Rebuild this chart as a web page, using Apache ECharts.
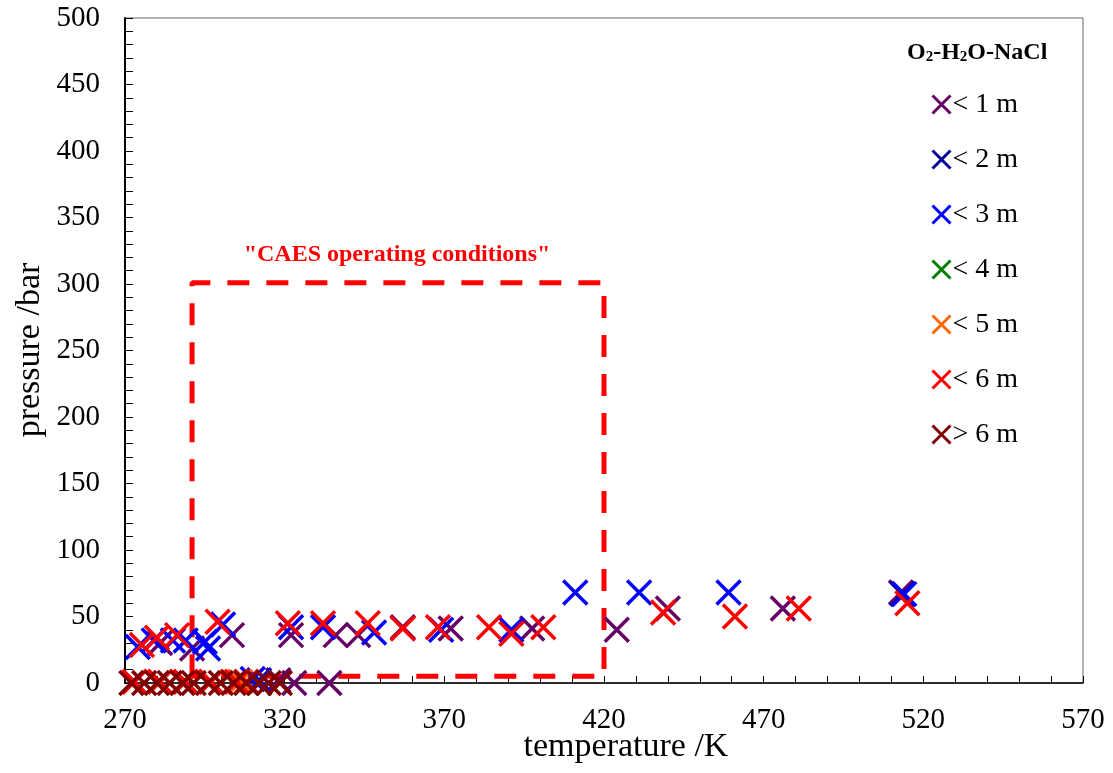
<!DOCTYPE html>
<html>
<head>
<meta charset="utf-8">
<script src="https://cdn.jsdelivr.net/npm/echarts@6/dist/echarts.min.js"></script>
<style>html,body{margin:0;padding:0;background:#fff;}#c{width:1113px;height:773px;}</style>
</head>
<body>
<div id="c"></div>
<script>
// ---- data ----
const seriesNames = ['< 1 m', '< 2 m', '< 3 m', '< 4 m', '< 5 m', '< 6 m', '> 6 m'];
const seriesColors = ['#660066', '#000099', '#0000ff', '#008000', '#ff6600', '#ff0000', '#800000'];
const lt1m = [[281,30],[291,26],[303.5,36],[322,36],[336,36],[343,36],[357,42],[372,41],[397.5,41],[424,40],[440,56],[476,56],[513,68],[318,2],[323,0],[334,0]];
const lt2m = [[513.5,67]];
const lt3m = [[274,27],[279,32],[285,32],[289,32],[295,31],[296,26],[300.7,44],[322,42],[332,42],[348,38],[369,40],[391,40],[411,68],[431,68],[459,68],[514,67],[310,3],[312,2]];
const lt4m = [[312,0]];
const lt5m = [[306,1]];
const lt6m = [[275.3,28.6],[280,34],[286.3,36],[299,46],[321,45],[332,45],[346,45],[357,41],[368,42],[384,42],[391,37],[401,42],[438.5,53],[461,50],[481,56],[515,60],[273,1],[281,1],[289,1],[297,1],[305,1],[308,1]];
const gt6m = [[272,0],[276,0],[280,0],[284,0],[288,0],[291.5,0],[296,0],[300,0],[304,0],[308,0],[312,0],[315,0],[318.5,0]];
const allSeries = [lt1m, lt2m, lt3m, lt4m, lt5m, lt6m, gt6m];
const caesBox = [[291,5],[291,301],[420,301],[420,5],[291,5]];
const caesLabel = '"CAES operating conditions"';
const xTicks = {min: 270, max: 570, interval: 50};
const yTicks = {min: 0, max: 500, interval: 50};

const FONT = '"Liberation Serif", "Times New Roman", serif';
const X = 'path://M0,0L24,24M24,0L0,24';

const chart = echarts.init(document.getElementById('c'), null, {renderer: 'canvas'});

const scatterSeries = allSeries.map((d, i) => ({
  type: 'scatter',
  name: seriesNames[i],
  data: d,
  symbol: X,
  symbolSize: 24,
  itemStyle: {color: 'rgba(0,0,0,0)', borderColor: seriesColors[i], borderWidth: 3.5, opacity: 1},
  z: 3 + i
}));

const option = {
  backgroundColor: '#fff',
  animation: false,
  textStyle: {fontFamily: FONT},
  grid: {left: 125, right: 30, top: 18, bottom: 90, show: true, borderColor: '#666', borderWidth: 1},
  title: {
    text: '{a|O}{s|2}{a|-H}{s|2}{a|O-NaCl}',
    left: 902, top: 32,
    textStyle: {
      rich: {
        a: {fontFamily: FONT, fontWeight: 'bold', fontSize: 24, color: '#000', lineHeight: 28, verticalAlign: 'bottom'},
        s: {fontFamily: FONT, fontWeight: 'bold', fontSize: 15, color: '#000', lineHeight: 15, verticalAlign: 'bottom'}
      }
    }
  },
  legend: {
    orient: 'vertical',
    left: 926, top: 85,
    itemWidth: 18, itemHeight: 18,
    itemGap: 26,
    icon: 'path://M0,0L24,24M24,0L0,24',
    itemStyle: {borderWidth: 3},
    textStyle: {fontFamily: FONT, fontSize: 28, color: '#000', lineHeight: 29, padding: [0,0,0,-3]},
    data: seriesNames
  },
  xAxis: {
    type: 'value', min: xTicks.min, max: xTicks.max, interval: xTicks.interval,
    axisLine: {show: true, onZero: false, lineStyle: {color: '#000', width: 1.5}},
    axisTick: {show: true, inside: true, length: 7, lineStyle: {color: '#000', width: 1}},
    minorTick: {show: true, splitNumber: 5, length: 7, lineStyle: {color: '#000', width: 1}},
    splitLine: {show: false},
    axisLabel: {fontFamily: FONT, fontSize: 29, color: '#000', margin: 23}
  },
  yAxis: {
    type: 'value', min: yTicks.min, max: yTicks.max, interval: yTicks.interval,
    axisLine: {show: true, lineStyle: {color: '#000', width: 2}},
    axisTick: {show: true, inside: true, length: 8, lineStyle: {color: '#000', width: 1}},
    minorTick: {show: true, splitNumber: 5, length: 8, lineStyle: {color: '#000', width: 1}},
    splitLine: {show: false},
    axisLabel: {fontFamily: FONT, fontSize: 29, color: '#000', margin: 25}
  },
  graphic: [
    {type: 'text', x: 626, y: 747, style: {text: 'temperature /K', font: '34px ' + FONT, fill: '#000', textAlign: 'center', textVerticalAlign: 'middle'}},
    {type: 'text', x: 30, y: 350, rotation: Math.PI / 2, style: {text: 'pressure /bar', font: '34px ' + FONT, fill: '#000', textAlign: 'center', textVerticalAlign: 'middle'}},
    {type: 'text', x: 397, y: 255, style: {text: caesLabel, font: 'bold 24px ' + FONT, fill: '#ff0000', textAlign: 'center', textVerticalAlign: 'middle'}}
  ],
  series: [
    {
      type: 'line', name: 'CAES', data: caesBox, symbol: 'none', silent: true,
      lineStyle: {color: '#ff0000', width: 5, type: [22, 17]}, z: 2
    }
  ].concat(scatterSeries)
};
chart.setOption(option);
</script>
</body>
</html>
